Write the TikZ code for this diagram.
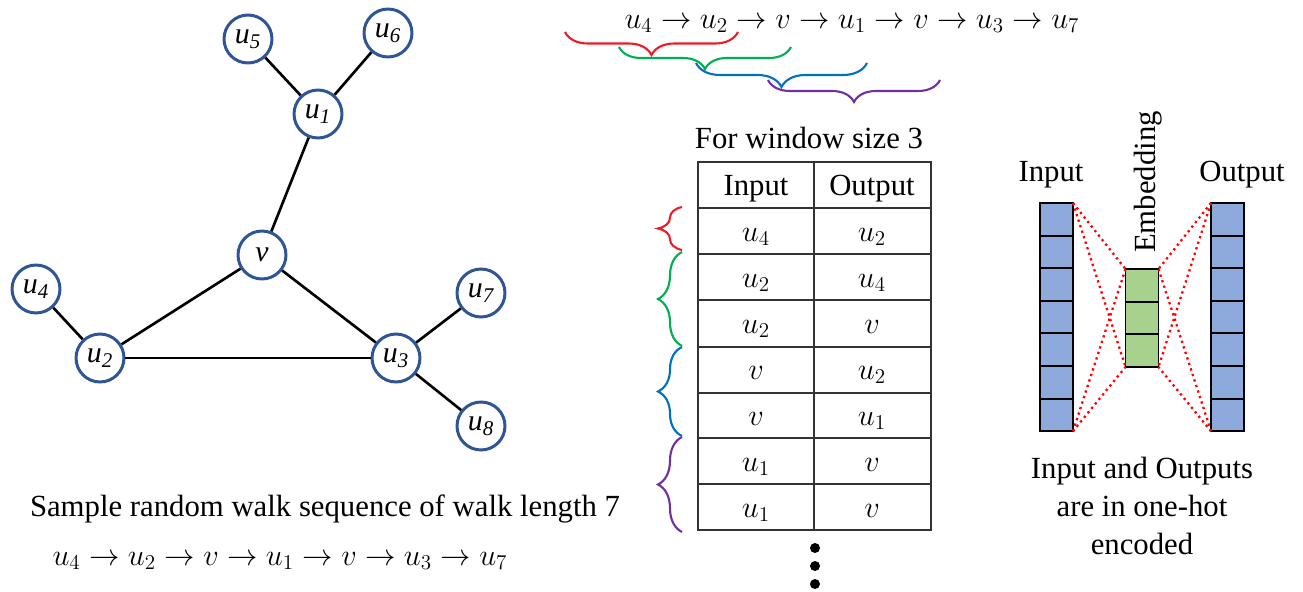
\documentclass[tikz,border=0pt]{standalone}
\usepackage{fontspec}
\setmainfont{Liberation Serif}
\usepackage{amsmath}
\usepackage{xcolor}
\usetikzlibrary{arrows.meta, positioning, calc, decorations.pathreplacing}

\definecolor{vertblue}{RGB}{47,85,151}
\definecolor{cellblue}{RGB}{142,169,219}
\definecolor{cellgreen}{RGB}{169,209,142}
\definecolor{winred}{RGB}{237,28,36}
\definecolor{wingreen}{RGB}{0,176,80}
\definecolor{winblue}{RGB}{0,112,192}
\definecolor{winpurple}{RGB}{112,48,160}

\newcommand{\gu}[1]{$\mathit{u}_{\mathit{#1}}$}

\begin{document}
\begin{tikzpicture}[x=0.02cm, y=-0.02cm,
  vert/.style={circle, draw=vertblue, line width=1.7pt, fill=white,
               minimum size=0.96cm, inner sep=0pt, font=\fontsize{17}{20}\selectfont},
  edge/.style={line width=1.5pt},
  txt/.style={font=\fontsize{17.5}{21.5}\selectfont, inner sep=0pt},
  win/.style={decorate, decoration={brace, amplitude=#1}, line width=1.2pt},
  cell/.style={draw, line width=1.1pt, minimum width=0.66cm, minimum height=0.652cm,
               inner sep=0pt, outer sep=0pt},
  wire/.style={red, dotted, line width=1.3pt}
]
  \useasboundingbox (0,0) rectangle (1303,592);

  % graph
  \node[vert] (u5) at (248,39) {\gu{5}};
  \node[vert] (u6) at (388,33) {\gu{6}};
  \node[vert] (u1) at (318,114) {\gu{1}};
  \node[vert] (v) at (262,255) {$\mathit{v}$};
  \node[vert] (u4) at (36,289) {\gu{4}};
  \node[vert] (u2) at (100,358) {\gu{2}};
  \node[vert] (u3) at (396,358) {\gu{3}};
  \node[vert] (u7) at (481,293) {\gu{7}};
  \node[vert] (u8) at (481,426) {\gu{8}};

  \draw[edge] (u5) -- (u1);
  \draw[edge] (u6) -- (u1);
  \draw[edge] (u1) -- (v);
  \draw[edge] (v) -- (u2);
  \draw[edge] (v) -- (u3);
  \draw[edge] (u4) -- (u2);
  \draw[edge] (u2) -- (u3);
  \draw[edge] (u3) -- (u7);
  \draw[edge] (u3) -- (u8);

  \node[txt, anchor=base] (walkcap) at (325,516) {Sample random walk sequence of walk length 7};
  \node[txt, anchor=base] (walkseq) at (280,565)
    {$u_4 \rightarrow u_2 \rightarrow v \rightarrow u_1 \rightarrow v \rightarrow u_3 \rightarrow u_7$};

  % sliding windows
  \node[txt, anchor=base] (topseq) at (852,28)
    {$u_4 \rightarrow u_2 \rightarrow v \rightarrow u_1 \rightarrow v \rightarrow u_3 \rightarrow u_7$};
  \draw[win=0.46cm, winred] (738,32) -- (565,32);
  \draw[win=0.44cm, wingreen] (791,47) -- (619,47);
  \draw[win=0.48cm, winblue] (867,63) -- (696,63);
  \draw[win=0.44cm, winpurple] (940,80) -- (768,80);

  % table
  \node[txt, anchor=base] (wincap) at (809,148) {For window size 3};
  \draw[line width=0.8pt, black!80] (698,162) rectangle (931,530);
  \foreach \y in {208,254,300,347,393,438,484}
    \draw[line width=0.8pt, black!80] (698,\y) -- (931,\y);
  \draw[line width=0.8pt, black!80] (814,162) -- (814,530);
  \node[txt, anchor=base] (hin) at (756,195) {Input};
  \node[txt, anchor=base] (hout) at (872,195) {Output};
  \foreach \a/\b [count=\i] in {u_4/u_2, u_2/u_4, u_2/v, v/u_2, v/u_1, u_1/v, u_1/v} {
    \node[txt, anchor=base] (in\i) at (756,{185+46*\i+10}) {$\a$};
    \node[txt, anchor=base] (out\i) at (872,{185+46*\i+10}) {$\b$};
  }
  \foreach \y in {548,566,584}
    \fill (815,\y) circle[radius=0.1cm];

  \draw[win=0.48cm, winred] (682,250) -- (682,207);
  \draw[win=0.48cm, wingreen] (682,346) -- (682,252);
  \draw[win=0.48cm, winblue] (682,436) -- (682,347);
  \draw[win=0.48cm, winpurple] (682,532) -- (682,437);

  % skip-gram network
  \foreach \i in {1,...,7} {
    \node[cell, fill=cellblue] (ic\i) at (1056.5,{203+32.6*(\i-0.5)}) {};
    \node[cell, fill=cellblue] (oc\i) at (1227.5,{203+32.6*(\i-0.5)}) {};
  }
  \foreach \i in {1,2,3}
    \node[cell, fill=cellgreen] (ec\i) at (1142,{269+32.67*(\i-0.5)}) {};

  \draw[wire] (ic1.north east) -- (ec1.north west);
  \draw[wire] (ic1.north east) -- (ec3.south west);
  \draw[wire] (ic7.south east) -- (ec1.north west);
  \draw[wire] (ic7.south east) -- (ec3.south west);
  \draw[wire] (oc1.north west) -- (ec1.north east);
  \draw[wire] (oc1.north west) -- (ec3.south east);
  \draw[wire] (oc7.south west) -- (ec1.north east);
  \draw[wire] (oc7.south west) -- (ec3.south east);

  \node[txt, anchor=base] (netin) at (1051,181) {Input};
  \node[txt, anchor=base] (netout) at (1242,181) {Output};
  \node[txt, rotate=90] (netemb) at (1148,182) {Embedding};
  \node[txt, align=center] (netnote) at (1142,506) {Input and Outputs\\are in one-hot\\encoded};
\end{tikzpicture}
\end{document}
